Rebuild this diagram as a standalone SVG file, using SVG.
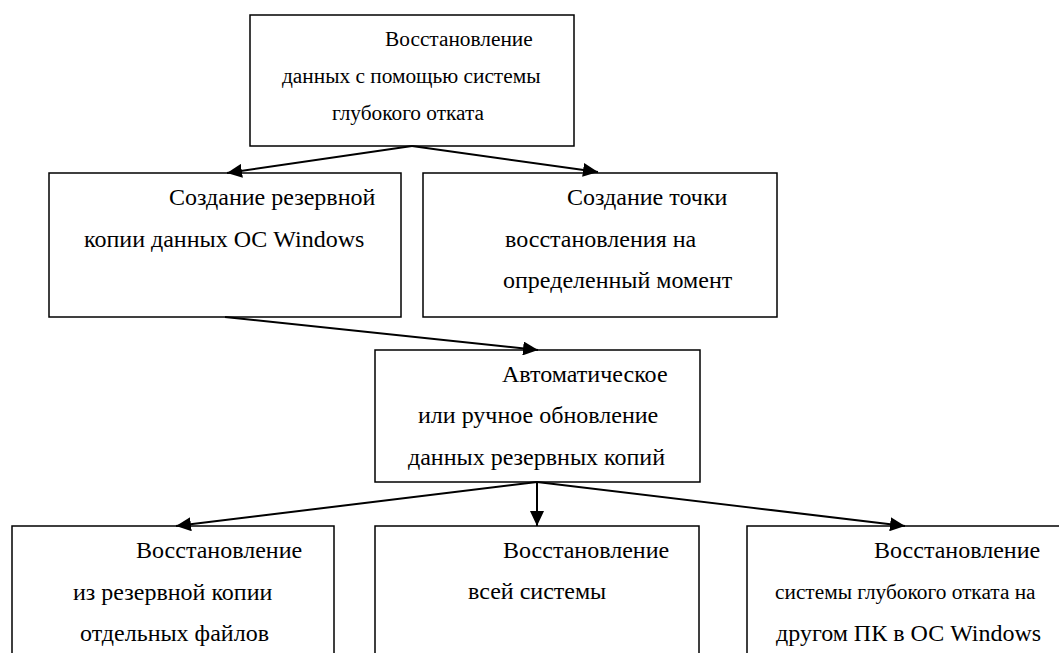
<svg xmlns="http://www.w3.org/2000/svg" width="1059" height="653" viewBox="0 0 1059 653">
<defs>
<marker id="ah" markerUnits="userSpaceOnUse" markerWidth="16" markerHeight="14" refX="15" refY="7" orient="auto">
<path d="M0,0 L15,7 L0,14 z" fill="#000"/>
</marker>
</defs>
<rect width="1059" height="653" fill="#fff"/>
<g font-family="'Liberation Serif', serif" fill="#000" font-size="24">
<g id="n1">
<rect x="250" y="15" width="324" height="131" fill="#fff" stroke="#000" stroke-width="1.5"/>
<text font-size="21.33" x="385" y="46">Восстановление</text>
<text font-size="21.33" x="282" y="83">данных с помощью системы</text>
<text font-size="21.33" x="332" y="120">глубокого отката</text>
</g>
<g id="n2">
<rect x="49" y="173" width="352" height="144" fill="#fff" stroke="#000" stroke-width="1.5"/>
<text x="169" y="205">Создание резервной</text>
<text x="84" y="247">копии данных ОС Windows</text>
</g>
<g id="n3">
<rect x="423" y="173" width="354" height="144" fill="#fff" stroke="#000" stroke-width="1.5"/>
<text x="567" y="205">Создание точки</text>
<text x="505" y="247">восстановления на</text>
<text x="503" y="288">определенный момент</text>
</g>
<g id="n4">
<rect x="375" y="350" width="325" height="132" fill="#fff" stroke="#000" stroke-width="1.5"/>
<text x="502" y="382">Автоматическое</text>
<text x="418" y="423">или ручное обновление</text>
<text x="408" y="465">данных резервных копий</text>
</g>
<g id="n5">
<rect x="12" y="526" width="322" height="140" fill="#fff" stroke="#000" stroke-width="1.5"/>
<text x="136" y="558">Восстановление</text>
<text x="73" y="600">из резервной копии</text>
<text x="80" y="641">отдельных файлов</text>
</g>
<g id="n6">
<rect x="375" y="526" width="324" height="140" fill="#fff" stroke="#000" stroke-width="1.5"/>
<text x="503" y="558">Восстановление</text>
<text x="468" y="599">всей системы</text>
</g>
<g id="n7">
<rect x="747" y="526" width="330" height="140" fill="#fff" stroke="#000" stroke-width="1.5"/>
<text x="874" y="558">Восстановление</text>
<text font-size="21.33" x="775" y="599">системы глубокого отката на</text>
<text x="776" y="641">другом ПК в ОС Windows</text>
</g>
</g>
<g id="connectors" fill="none" stroke="#000" stroke-width="2" marker-end="url(#ah)">
<line x1="412" y1="146" x2="227" y2="173"/>
<line x1="412" y1="146" x2="598" y2="172"/>
<line x1="225" y1="317" x2="538" y2="350"/>
<line x1="537" y1="482" x2="176" y2="526"/>
<line x1="537" y1="482" x2="537" y2="526"/>
<line x1="537" y1="482" x2="905" y2="526"/>
</g>
</svg>
